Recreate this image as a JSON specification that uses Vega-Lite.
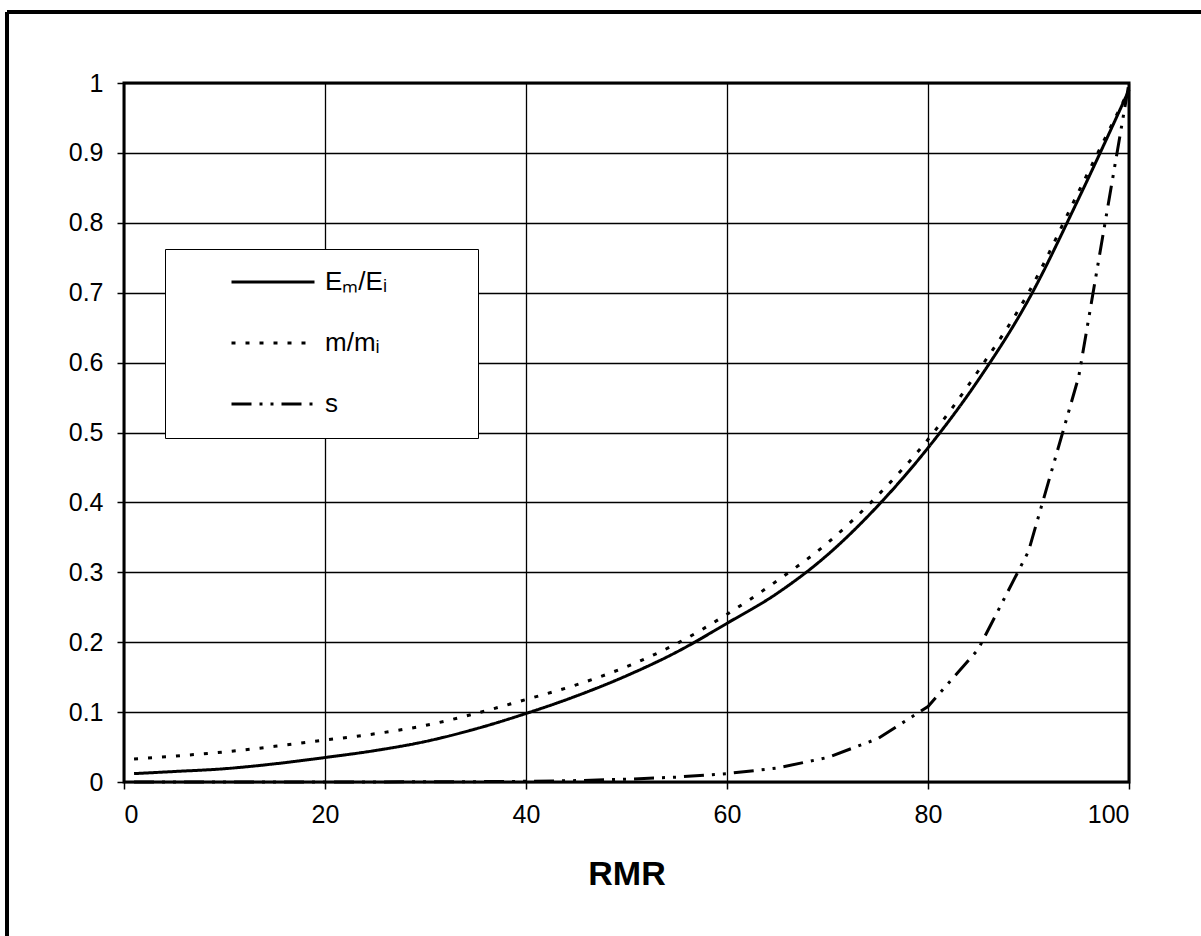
{
  "$schema": "https://vega.github.io/schema/vega-lite/v6.json",
  "width": 1005,
  "height": 699,
  "autosize": "none",
  "padding": {"left": 124, "top": 83, "right": 72, "bottom": 154},
  "background": "white",
  "config": {
    "font": "Liberation Sans",
    "view": {"stroke": "black", "strokeWidth": 3},
    "axis": {
      "domain": false,
      "grid": true,
      "gridColor": "black",
      "gridWidth": 1.3,
      "gridOpacity": 1,
      "tickColor": "black",
      "tickSize": 7,
      "tickWidth": 1.5,
      "labelFont": "Liberation Sans",
      "labelFontSize": 25,
      "labelColor": "black",
      "titleColor": "black"
    }
  },
  "data": {
    "values": [
      {"RMR": 1, "series": "Eₘ/Eᵢ", "value": 0.012},
      {"RMR": 5, "series": "Eₘ/Eᵢ", "value": 0.015},
      {"RMR": 10, "series": "Eₘ/Eᵢ", "value": 0.019},
      {"RMR": 15, "series": "Eₘ/Eᵢ", "value": 0.026},
      {"RMR": 20, "series": "Eₘ/Eᵢ", "value": 0.035},
      {"RMR": 25, "series": "Eₘ/Eᵢ", "value": 0.045},
      {"RMR": 30, "series": "Eₘ/Eᵢ", "value": 0.058},
      {"RMR": 35, "series": "Eₘ/Eᵢ", "value": 0.076},
      {"RMR": 40, "series": "Eₘ/Eᵢ", "value": 0.098},
      {"RMR": 45, "series": "Eₘ/Eᵢ", "value": 0.123},
      {"RMR": 50, "series": "Eₘ/Eᵢ", "value": 0.152},
      {"RMR": 55, "series": "Eₘ/Eᵢ", "value": 0.186},
      {"RMR": 60, "series": "Eₘ/Eᵢ", "value": 0.227},
      {"RMR": 65, "series": "Eₘ/Eᵢ", "value": 0.27},
      {"RMR": 70, "series": "Eₘ/Eᵢ", "value": 0.325},
      {"RMR": 75, "series": "Eₘ/Eᵢ", "value": 0.395},
      {"RMR": 80, "series": "Eₘ/Eᵢ", "value": 0.478},
      {"RMR": 85, "series": "Eₘ/Eᵢ", "value": 0.575},
      {"RMR": 90, "series": "Eₘ/Eᵢ", "value": 0.69},
      {"RMR": 95, "series": "Eₘ/Eᵢ", "value": 0.835},
      {"RMR": 100, "series": "Eₘ/Eᵢ", "value": 0.99},
      {"RMR": 1, "series": "m/mᵢ", "value": 0.033},
      {"RMR": 5, "series": "m/mᵢ", "value": 0.037},
      {"RMR": 10, "series": "m/mᵢ", "value": 0.043},
      {"RMR": 15, "series": "m/mᵢ", "value": 0.051},
      {"RMR": 20, "series": "m/mᵢ", "value": 0.06},
      {"RMR": 25, "series": "m/mᵢ", "value": 0.069},
      {"RMR": 30, "series": "m/mᵢ", "value": 0.081},
      {"RMR": 35, "series": "m/mᵢ", "value": 0.098},
      {"RMR": 40, "series": "m/mᵢ", "value": 0.118},
      {"RMR": 45, "series": "m/mᵢ", "value": 0.139},
      {"RMR": 50, "series": "m/mᵢ", "value": 0.165},
      {"RMR": 55, "series": "m/mᵢ", "value": 0.198},
      {"RMR": 60, "series": "m/mᵢ", "value": 0.24},
      {"RMR": 65, "series": "m/mᵢ", "value": 0.288},
      {"RMR": 70, "series": "m/mᵢ", "value": 0.342},
      {"RMR": 75, "series": "m/mᵢ", "value": 0.41},
      {"RMR": 80, "series": "m/mᵢ", "value": 0.49},
      {"RMR": 85, "series": "m/mᵢ", "value": 0.588},
      {"RMR": 90, "series": "m/mᵢ", "value": 0.7},
      {"RMR": 95, "series": "m/mᵢ", "value": 0.845},
      {"RMR": 100, "series": "m/mᵢ", "value": 0.99},
      {"RMR": 1, "series": "s", "value": 0},
      {"RMR": 5, "series": "s", "value": 0},
      {"RMR": 10, "series": "s", "value": 0},
      {"RMR": 15, "series": "s", "value": 0},
      {"RMR": 20, "series": "s", "value": 0},
      {"RMR": 25, "series": "s", "value": 0.0001},
      {"RMR": 30, "series": "s", "value": 0.0003},
      {"RMR": 35, "series": "s", "value": 0.0005},
      {"RMR": 40, "series": "s", "value": 0.001},
      {"RMR": 45, "series": "s", "value": 0.002},
      {"RMR": 50, "series": "s", "value": 0.004},
      {"RMR": 55, "series": "s", "value": 0.007},
      {"RMR": 60, "series": "s", "value": 0.012},
      {"RMR": 65, "series": "s", "value": 0.02},
      {"RMR": 70, "series": "s", "value": 0.035},
      {"RMR": 75, "series": "s", "value": 0.062},
      {"RMR": 80, "series": "s", "value": 0.108},
      {"RMR": 85, "series": "s", "value": 0.19},
      {"RMR": 90, "series": "s", "value": 0.33},
      {"RMR": 95, "series": "s", "value": 0.58},
      {"RMR": 100, "series": "s", "value": 1.0}
    ]
  },
  "encoding": {
    "x": {
      "field": "RMR",
      "type": "quantitative",
      "scale": {"domain": [0, 100], "nice": false, "zero": false},
      "axis": {
        "values": [0, 20, 40, 60, 80, 100],
        "title": "RMR",
        "titleFont": "Liberation Sans",
        "titleFontSize": 34,
        "titleFontWeight": "bold",
        "titlePadding": 30,
        "labelPadding": 13
      }
    },
    "y": {
      "field": "value",
      "type": "quantitative",
      "scale": {"domain": [0, 1], "nice": false, "zero": false},
      "axis": {
        "values": [0, 0.1, 0.2, 0.3, 0.4, 0.5, 0.6, 0.7, 0.8, 0.9, 1],
        "format": "~g",
        "title": null,
        "labelPadding": 14
      }
    },
    "strokeDash": {
      "field": "series",
      "type": "nominal",
      "scale": {
        "domain": ["Eₘ/Eᵢ", "m/mᵢ", "s"],
        "range": [[1, 0], [4, 10], [20, 8, 3, 8, 3, 8]]
      },
      "legend": {
        "orient": "none",
        "legendX": 41,
        "legendY": 166,
        "title": null,
        "symbolType": "stroke",
        "symbolSize": 6889,
        "symbolStrokeWidth": 3,
        "symbolStrokeColor": "black",
        "symbolOffset": 44,
        "labelOffset": 9,
        "labelFont": "Liberation Sans",
        "labelFontSize": 26,
        "labelColor": "black",
        "labelLimit": 300,
        "labelExpr": "datum.label + '\u00a0\u00a0\u00a0\u00a0\u00a0\u00a0\u00a0\u2800'",
        "clipHeight": 24,
        "rowPadding": 35,
        "padding": 21,
        "strokeColor": "black",
        "fillColor": "white",
        "cornerRadius": 0
      }
    }
  },
  "layer": [
    {
      "transform": [{"filter": "datum.series !== 's'"}],
      "mark": {"type": "line", "color": "black", "strokeWidth": 3, "interpolate": "monotone"}
    },
    {
      "transform": [{"filter": "datum.series === 's'"}],
      "mark": {"type": "line", "color": "black", "strokeWidth": 3}
    },
    {
      "mark": {"type": "rule", "color": "black", "strokeWidth": 3.5},
      "encoding": {
        "x": {"datum": -11.64},
        "y": {"datum": 1.1016},
        "y2": {"datum": -0.3},
        "strokeDash": null
      }
    },
    {
      "mark": {"type": "rule", "color": "black", "strokeWidth": 3.5},
      "encoding": {
        "y": {"datum": 1.1016},
        "x": {"datum": -11.64},
        "x2": {"datum": 110},
        "strokeDash": null
      }
    }
  ]
}
